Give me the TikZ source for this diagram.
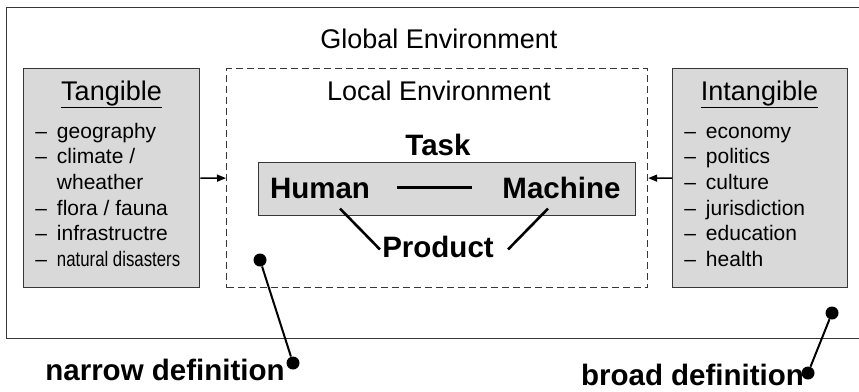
\documentclass[tikz,border=0pt]{standalone}
\usepackage{fontspec}
\setmainfont{Liberation Sans}
\usetikzlibrary{arrows.meta, positioning}
\definecolor{boxgray}{RGB}{217,217,217}
\definecolor{linegray}{RGB}{55,55,55}

\begin{document}
\begin{tikzpicture}[x=1pt, y=-1pt, >={Triangle[length=9pt,width=7pt]}, semithick,
	frame/.style={draw=linegray, line width=1.2pt, inner sep=0pt, anchor=north west},
	greybox/.style={frame, fill=boxgray, line width=1.4pt},
	localbox/.style={frame, dash pattern=on 7pt off 4pt},
	envtext/.style={font=\fontsize{27}{31}\selectfont, anchor=base},
	boldtext/.style={font=\fontsize{29.5}{33}\selectfont\bfseries, anchor=base, inner sep=2pt},
	listtext/.style={font=\fontsize{21}{25.7}\selectfont, anchor=base west, inner sep=0pt},
	dot/.style={circle, fill=black, inner sep=0pt, minimum size=13pt},
	link/.style={line width=2.6pt},
	pin/.style={line width=2pt}]
	
	\useasboundingbox (0,0) rectangle (859,391);
	
	% Boxes
	\node[frame, minimum width=864pt, minimum height=331pt] (global) at (6,7) {};
	\node[greybox, minimum width=176pt, minimum height=219pt] (tangbox) at (23,68) {};
	\node[localbox, minimum width=421pt, minimum height=219pt] (local) at (226,68) {};
	\node[greybox, minimum width=175pt, minimum height=219pt] (intbox) at (672,68) {};
	\node[greybox, minimum width=377pt, minimum height=53pt] (taskbox) at (258,162) {};
	
	% Titles
	\node[envtext] (globaltitle) at (439,48) {Global Environment};
	\node[envtext] (localtitle) at (439,100) {Local Environment};
	\node[envtext] (tangtitle) at (111.5,100) {\underline{Tangible}};
	\node[envtext] (inttitle) at (759.5,100) {\underline{Intangible}};
	
	% Lists
	\node[listtext] (tanglist) at (35,138) {\begin{tabular}[t]{@{}l@{\hspace{10pt}}l@{}}
		– & geography\\
		– & climate /\\
		  & wheather\\
		– & flora / fauna\\
		– & infrastructre\\
		– & \scalebox{0.8}[1]{natural disasters}
	\end{tabular}};
	\node[listtext] (intlist) at (684,138) {\begin{tabular}[t]{@{}l@{\hspace{10pt}}l@{}}
		– & economy\\
		– & politics\\
		– & culture\\
		– & jurisdiction\\
		– & education\\
		– & health
	\end{tabular}};
	
	% Task
	\node[boldtext] (task) at (438,155) {Task};
	\node[boldtext] (human) at (320,198) {Human};
	\node[boldtext] (machine) at (561.5,198) {Machine};
	\node[boldtext] (product) at (438,257) {Product};
	
	% Definitions
	\node[boldtext] (narrow) at (165,380) {narrow definition};
	\node[boldtext] (broad) at (692.5,385) {broad definition};
	\node[dot] (narrowin) at (260,260) {};
	\node[dot] (narrowout) at (293,363) {};
	\node[dot] (broadin) at (832,313) {};
	\node[dot] (broadout) at (808,373) {};
	
	% Edges
	\draw[->, line width=1.5pt] (tangbox.east) -- (local.west);
	\draw[->, line width=1.5pt] (intbox.west) -- (local.east);
	\draw[link, line width=3pt, shorten <=25pt, shorten >=28pt] (human.east) -- (human.east -| machine.west);
	\draw[link] ([xshift=20pt,yshift=-8pt]human.south) -- ([yshift=-3pt]product.west);
	\draw[link] ([xshift=-13.5pt,yshift=-8pt]machine.south) -- ([xshift=12pt,yshift=-3pt]product.east);
	\draw[pin] (narrowin) -- (narrowout);
	\draw[pin] (broadin) -- (broadout);
	
\end{tikzpicture}
\end{document}
